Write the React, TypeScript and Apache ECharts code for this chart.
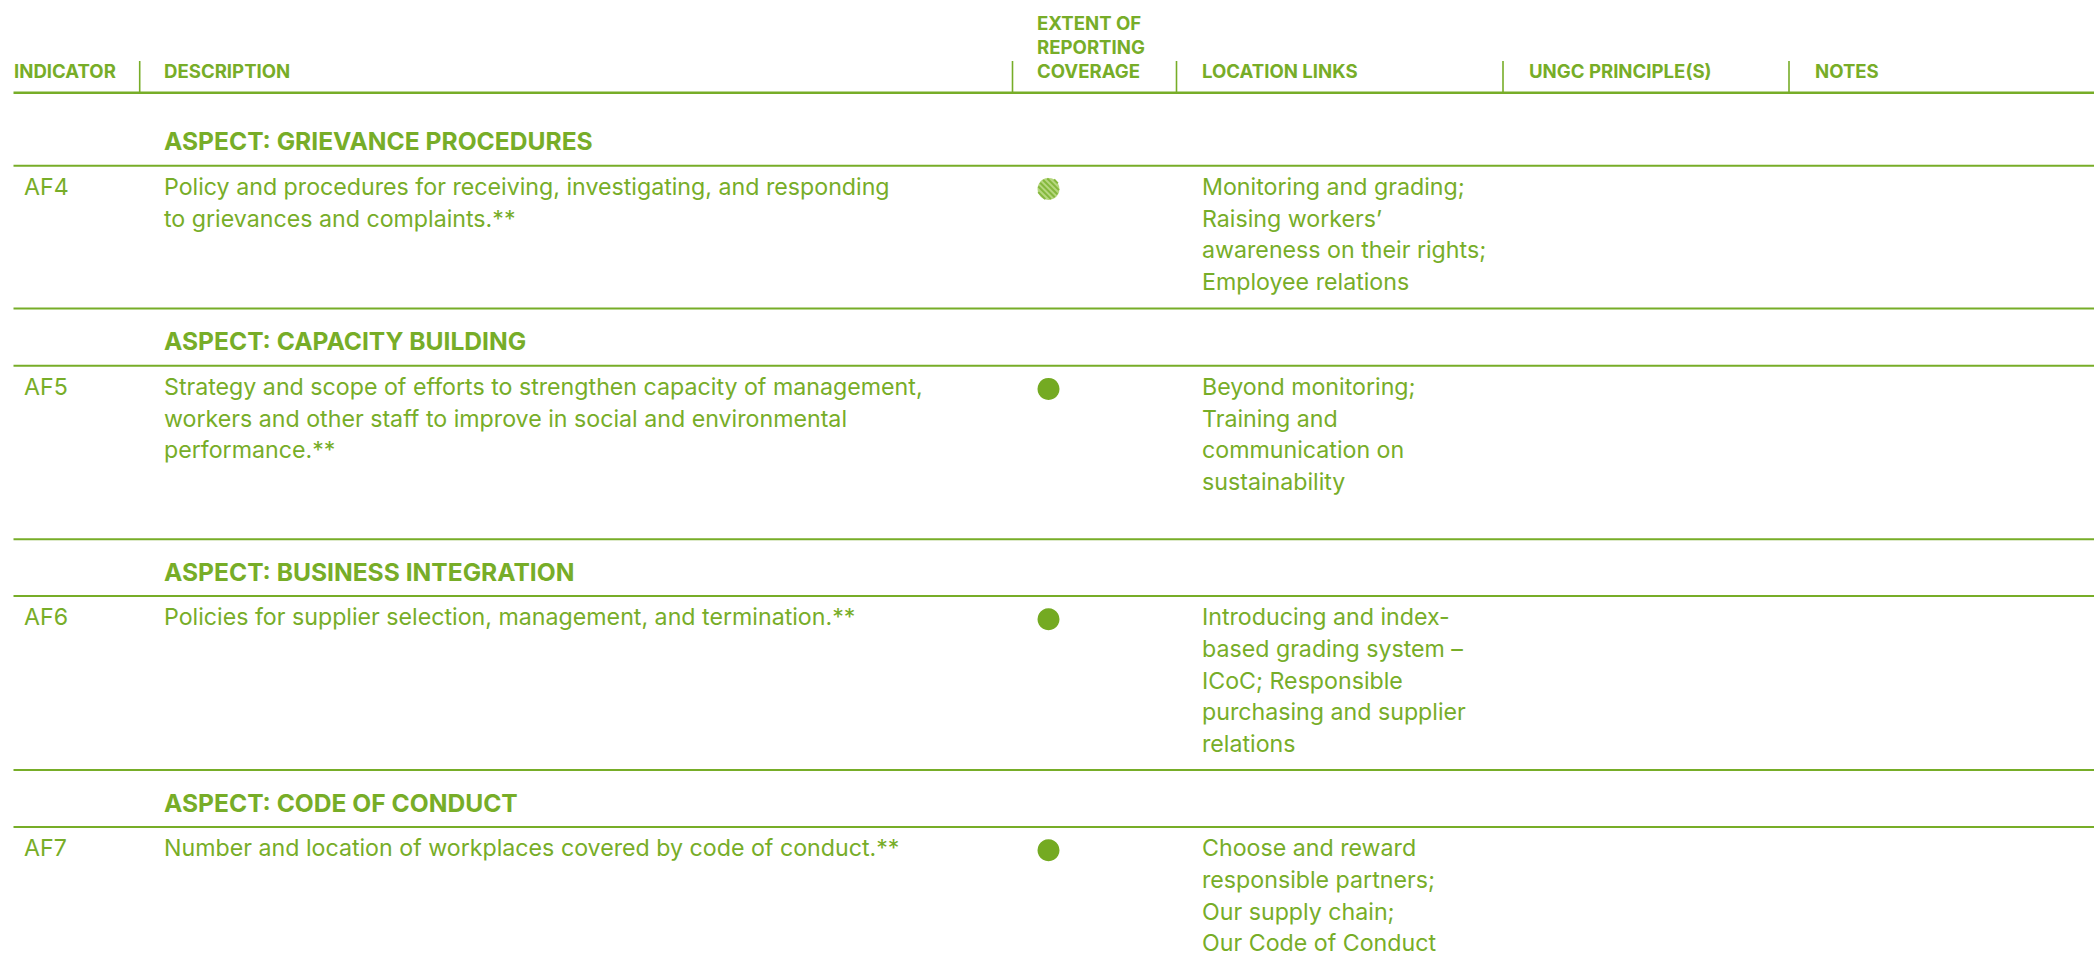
import React, { useEffect, useRef } from "react";
import * as echarts from "echarts";

// ---------- data ----------
const headerLabels = ["INDICATOR", "DESCRIPTION", "EXTENT OF\nREPORTING\nCOVERAGE", "LOCATION LINKS", "UNGC PRINCIPLE(S)", "NOTES"];
const aspects = [
  "ASPECT: GRIEVANCE PROCEDURES",
  "ASPECT: CAPACITY BUILDING",
  "ASPECT: BUSINESS INTEGRATION",
  "ASPECT: CODE OF CONDUCT",
];
const indicators = ["AF4", "AF5", "AF6", "AF7"];
const descriptions = [
  ["Policy and procedures for receiving, investigating, and responding", "to grievances and complaints.**"],
  ["Strategy and scope of efforts to strengthen capacity of management,", "workers and other staff to improve in social and environmental", "performance.**"],
  ["Policies for supplier selection, management, and termination.**"],
  ["Number and location of workplaces covered by code of conduct.**"],
];
const coverage = ["partial", "full", "full", "full"];
const locationLinks = [
  ["Monitoring and grading;", "Raising workers’", "awareness on their rights;", "Employee relations"],
  ["Beyond monitoring;", "Training and", "communication on", "sustainability"],
  ["Introducing and index-", "based grading system –", "ICoC; Responsible", "purchasing and supplier", "relations"],
  ["Choose and reward", "responsible partners;", "Our supply chain;", "Our Code of Conduct"],
];
const ungcPrinciples = ["", "", "", ""];
const notes = ["", "", "", ""];

// ---------- layout / style ----------
const W = 2094;
const H = 955;
const GREEN = "#77ad28";
const DOT = "#74aa22";
const HATCH_LIGHT = "#b6d77f";
const HATCH_DARK = "#84b83c";
const FONT = "Inter, 'Noto Sans', Roboto, sans-serif";
const colX = [14, 164, 1037, 1202, 1529, 1815];
const indicatorX = 24;
const separatorsX = [139.7, 1012.5, 1176.5, 1503, 1789];
const headerLineY = 92.7;
const rowTops = [165.7, 365.7, 596, 827];
const rowBottoms = [308.5, 539.3, 770];
const lineGap = 31.7;

function buildGraphics() {
  const g: any[] = [];
  const text = (t: string, x: number, y: number, font: string) =>
    g.push({
      type: "text",
      silent: true,
      style: { text: t, x, y, fill: GREEN, font, verticalAlign: "middle", align: "left" },
    });
  const hline = (y: number, lw = 2) =>
    g.push({ type: "line", silent: true, shape: { x1: 13.5, y1: y, x2: W, y2: y }, style: { stroke: GREEN, lineWidth: lw } });

  // header
  const hFont = `bold 18.6px ${FONT}`;
  headerLabels.forEach((lbl, i) => {
    const lines = lbl.split("\n");
    lines.forEach((ln, k) => {
      const y = 70.7 - (lines.length - 1 - k) * 23.8;
      text(ln, colX[i], y, hFont);
    });
  });
  separatorsX.forEach((x) =>
    g.push({ type: "line", silent: true, shape: { x1: x, y1: 61, x2: x, y2: headerLineY }, style: { stroke: GREEN, lineWidth: 1.6 } })
  );
  hline(headerLineY, 2.4);

  // body rows
  const aFont = `bold 24.6px ${FONT}`;
  const bFont = `23.2px ${FONT}`;
  indicators.forEach((ind, r) => {
    const top = rowTops[r];
    text(aspects[r], colX[1], top - 24.4, aFont);
    hline(top);
    const y0 = top + 21.3;
    text(ind, indicatorX, y0, bFont);
    descriptions[r].forEach((ln, k) => text(ln, colX[1], y0 + k * lineGap, bFont));
    locationLinks[r].forEach((ln, k) => text(ln, colX[3], y0 + k * lineGap, bFont));
    if (ungcPrinciples[r]) text(ungcPrinciples[r], colX[4], y0, bFont);
    if (notes[r]) text(notes[r], colX[5], y0, bFont);

    const cx = 1048.5;
    const cy = top + 23.2;
    const rad = 11;
    if (coverage[r] === "full") {
      g.push({ type: "circle", silent: true, shape: { cx, cy, r: rad }, style: { fill: DOT } });
    } else {
      g.push({ type: "circle", silent: true, shape: { cx, cy, r: rad }, style: { fill: HATCH_LIGHT } });
      const s = Math.SQRT1_2;
      for (let d = -rad + 1.5; d < rad; d += 4) {
        const h = Math.sqrt(Math.max(0, rad * rad - d * d)) - 0.6;
        if (h <= 0.5) continue;
        const px = cx + d * s;
        const py = cy - d * s;
        g.push({
          type: "line",
          silent: true,
          shape: { x1: px - h * s, y1: py - h * s, x2: px + h * s, y2: py + h * s },
          style: { stroke: HATCH_DARK, lineWidth: 2 },
        });
      }
    }
    if (r < rowBottoms.length) hline(rowBottoms[r]);
  });
  return g;
}

export default function App() {
  const ref = useRef<HTMLDivElement>(null);
  useEffect(() => {
    document.body.style.margin = "0";
    document.body.style.overflow = "hidden";
    const chart = echarts.init(ref.current!, undefined, { renderer: "svg" });
    chart.setOption({
      animation: false,
      backgroundColor: "#ffffff",
      graphic: { elements: buildGraphics() },
    });
    return () => chart.dispose();
  }, []);
  return <div ref={ref} style={{ width: W, height: H }} />;
}
